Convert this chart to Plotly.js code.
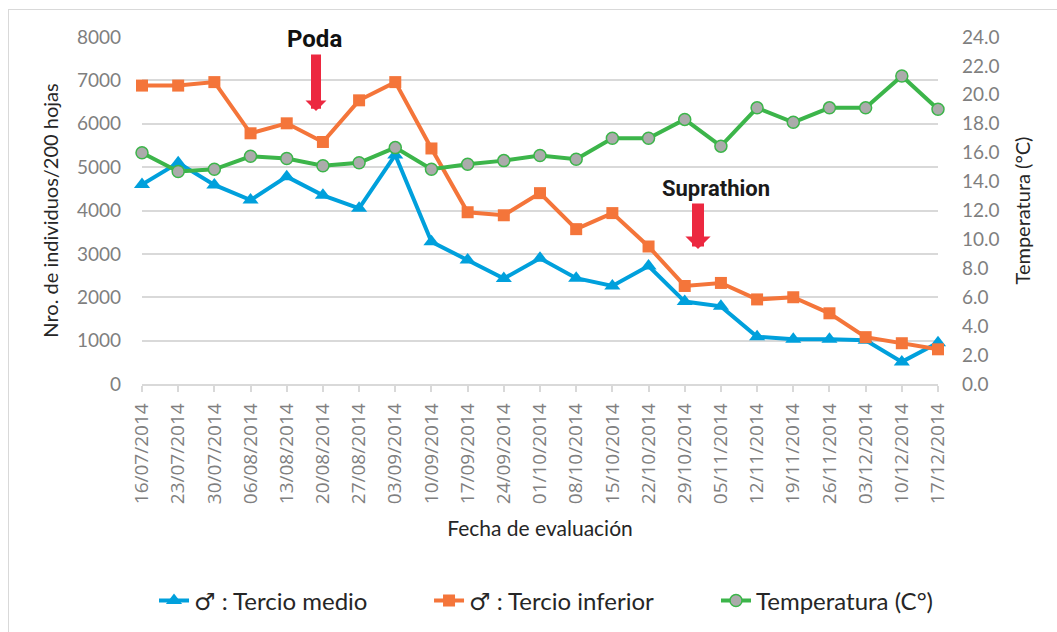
<!DOCTYPE html>
<html>
<head>
<meta charset="utf-8">
<script src="https://cdn.plot.ly/plotly-3.0.1.min.js"></script>
<style>
  html, body { margin: 0; padding: 0; background: #ffffff; }
  #frame { position: absolute; left: 8px; top: 9px; width: 1060px; height: 640px; border: 1.5px solid #d9d9d9; box-sizing: border-box; }
  #chart { position: absolute; left: 0; top: 0; width: 1057px; height: 632px; }
</style>
</head>
<body>
<div id="frame"></div>
<div id="chart"></div>
<script>
const fechas = ['16/07/2014','23/07/2014','30/07/2014','06/08/2014','13/08/2014','20/08/2014','27/08/2014','03/09/2014','10/09/2014','17/09/2014','24/09/2014','01/10/2014','08/10/2014','15/10/2014','22/10/2014','29/10/2014','05/11/2014','12/11/2014','19/11/2014','26/11/2014','03/12/2014','10/12/2014','17/12/2014'];
const tercioMedio = [4600,5100,4590,4240,4780,4350,4050,5280,3280,2860,2430,2900,2440,2260,2720,1900,1790,1090,1030,1030,1010,510,950];
const tercioInferior = [6880,6880,6960,5780,6010,5580,6540,6960,5430,3960,3890,4400,3570,3940,3170,2260,2330,1950,2000,1630,1080,940,800];
const temperatura = [16.0,14.7,14.85,15.75,15.6,15.1,15.3,16.35,14.85,15.2,15.45,15.8,15.55,17.0,17.0,18.3,16.45,19.1,18.1,19.1,19.1,21.3,19.0];
const nombres = ['\u2642 : Tercio medio', '\u2642 : Tercio inferior', 'Temperatura (C\u00b0)'];

const F = 'Lato, "DejaVu Sans", sans-serif';

const traces = [
  {
    x: fechas, y: tercioMedio, name: nombres[0], type: 'scatter', mode: 'lines+markers',
    line: {color: '#00a0dc', width: 4},
    marker: {symbol: 'triangle-up', size: 14, color: '#00a0dc'},
    cliponaxis: false, legend: 'legend'
  },
  {
    x: fechas, y: tercioInferior, name: nombres[1], type: 'scatter', mode: 'lines+markers',
    line: {color: '#f4753a', width: 4},
    marker: {symbol: 'square', size: 12, color: '#f4753a'},
    cliponaxis: false, legend: 'legend2'
  },
  {
    x: fechas, y: temperatura, name: nombres[2], type: 'scatter', mode: 'lines+markers', yaxis: 'y2',
    line: {color: '#3cb54a', width: 4},
    marker: {symbol: 'circle', size: 12, color: '#ababab', line: {color: '#3cb54a', width: 1.5}},
    cliponaxis: false, legend: 'legend3'
  }
];

const legFont = {family: F, size: 24, color: '#262626'};
const legY = -0.625;

const layout = {
  width: 1057, height: 632,
  margin: {l: 142, r: 119, t: 37, b: 248, autoexpand: false},
  paper_bgcolor: 'rgba(0,0,0,0)',
  plot_bgcolor: 'rgba(0,0,0,0)',
  font: {family: F, color: '#262626'},
  showlegend: true,
  xaxis: {
    type: 'category', categoryorder: 'array', categoryarray: fechas,
    range: [0, 22], fixedrange: true,
    showgrid: false, zeroline: false,
    showline: true, linecolor: '#d9d9d9', linewidth: 1.5,
    ticks: 'outside', ticklen: 6, tickcolor: '#d9d9d9', tickwidth: 1.5,
    tickangle: -90,
    tickfont: {family: '"Open Sans", sans-serif', size: 19, color: '#7f7f7f'},
    ticklabelstandoff: 4,
    title: {text: 'Fecha de evaluación', font: {family: F, size: 21, color: '#262626'}, standoff: 18}
  },
  yaxis: {
    range: [0, 8000], dtick: 1000, tick0: 0,
    showgrid: true, gridcolor: '#d9d9d9', gridwidth: 1.5,
    zeroline: false, showline: false, ticks: '',
    tickfont: {family: F, size: 19, color: '#7f7f7f'},
    ticklabelstandoff: 20,
    title: {text: 'Nro. de individuos/200 hojas', font: {family: F, size: 20, color: '#262626'}, standoff: 12}
  },
  yaxis2: {
    overlaying: 'y', side: 'right',
    range: [0, 24], dtick: 2, tick0: 0, tickformat: '.1f',
    showgrid: false, zeroline: false, showline: false, ticks: '',
    tickfont: {family: F, size: 19, color: '#7f7f7f'},
    ticklabelstandoff: 23,
    title: {text: 'Temperatura (°C)', font: {family: F, size: 20, color: '#262626'}, standoff: 17}
  },
  legend:  {orientation: 'h', x: 0.0151, xanchor: 'left', y: legY, yanchor: 'middle', font: legFont, bgcolor: 'rgba(0,0,0,0)'},
  legend2: {orientation: 'h', x: 0.3606, xanchor: 'left', y: legY, yanchor: 'middle', font: legFont, bgcolor: 'rgba(0,0,0,0)'},
  legend3: {orientation: 'h', x: 0.7211, xanchor: 'left', y: legY, yanchor: 'middle', font: legFont, bgcolor: 'rgba(0,0,0,0)'},
  annotations: [
    {xref: 'paper', yref: 'paper', x: 0.2164, y: 0.9942, xanchor: 'center', yanchor: 'middle',
     text: '<b>Poda</b>', showarrow: false,
     font: {family: 'Roboto, sans-serif', size: 24, color: '#111111'}, bgcolor: '#ffffff'},
    {xref: 'paper', yref: 'paper', x: 0.2186, y: 0.787, text: '', showarrow: true,
     axref: 'pixel', ayref: 'pixel', ax: 0, ay: -58,
     arrowcolor: '#ec2840', arrowwidth: 10, arrowsize: 0.35, arrowhead: 1, standoff: 0, startstandoff: 0},
    {xref: 'paper', yref: 'paper', x: 0.7211, y: 0.5648, xanchor: 'center', yanchor: 'middle',
     text: '<b>Suprathion</b>', showarrow: false,
     font: {family: 'Roboto, sans-serif', size: 22, color: '#1a1a1a'}},
    {xref: 'paper', yref: 'paper', x: 0.6985, y: 0.389, text: '', showarrow: true,
     axref: 'pixel', ayref: 'pixel', ax: 0, ay: -47,
     arrowcolor: '#ec2840', arrowwidth: 12, arrowsize: 0.35, arrowhead: 1, standoff: 0, startstandoff: 0}
  ]
};

Plotly.newPlot('chart', traces, layout, {displayModeBar: false, responsive: false});
</script>
</body>
</html>
